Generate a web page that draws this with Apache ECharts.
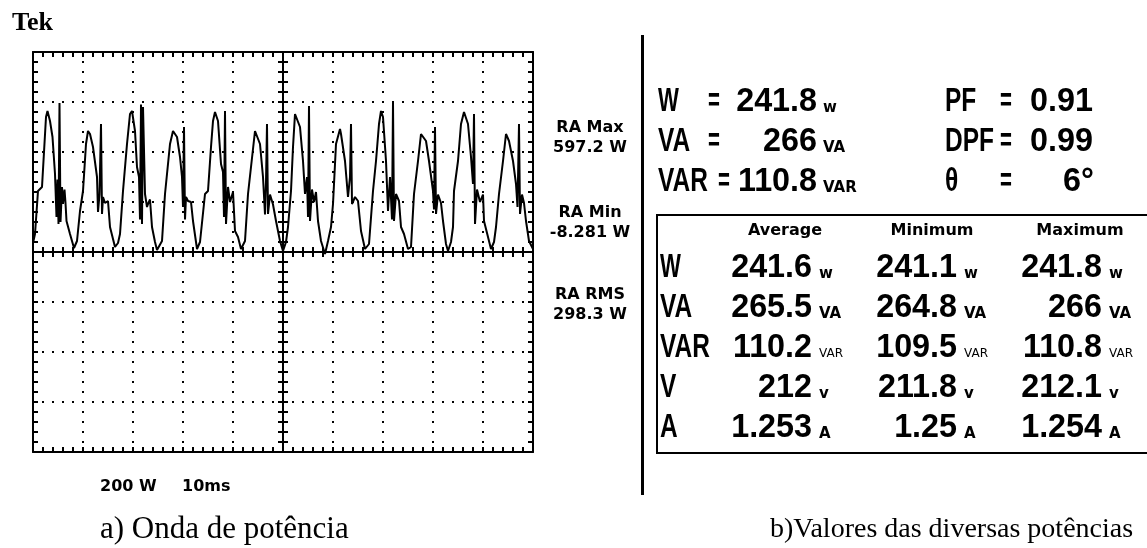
<!DOCTYPE html>
<html lang="pt">
    <head>
        <title>Onda de potência</title>
        <meta charset="utf-8">
        <script src='https://cdn.jsdelivr.net/npm/echarts@6/dist/echarts.min.js'></script>
    </head>

    <style>
        html, body {
            margin: 0;
            background: #fff;
        }

        #main {
            width: 1147px;
            height: 548px;
        }
    </style>

    <body>
        <div id='main'></div>

        <script>
            // scope trace, one line per hump (ms / W)
            const timeMs = [
                0.0, 0.4, 1.0, 1.8, 2.2, 2.6, 2.9, 3.4, 3.9, 4.4, 4.7, 4.9, 5.1, 5.3, 5.5, 5.8, 6.0, 6.3, 6.5, 6.7, 7.4, 7.8, 8.2,
                8.8, 9.4, 10.0, 10.6, 11.0, 11.4, 12.0, 12.8, 13.0, 13.3, 13.6, 13.8, 14.0, 14.4, 15.0, 15.4, 16.4,
                17.0, 17.4, 18.0, 18.8, 19.4, 19.8, 20.4, 20.8, 21.2, 21.4, 21.6, 21.8, 22.0, 22.4, 22.8, 23.0, 23.4, 23.8, 24.4, 24.8,
                25.8, 26.4, 27.4, 28.0, 28.8, 29.4, 29.8, 30.0, 30.2, 30.4, 30.6, 31.0, 31.6, 32.0, 32.8,
                33.4, 34.4, 35.0, 35.6, 36.0, 36.4, 37.0, 37.6, 38.0, 38.2, 38.4, 38.6, 39.0, 39.4, 40.0, 40.4, 41.0, 41.6,
                42.4, 43.0, 43.6, 44.4, 44.6, 45.4, 46.0, 46.4, 46.6, 46.8, 47.0, 47.4, 48.0, 48.6, 49.4, 50.0,
                50.6, 51.0, 51.6, 52.0, 52.4, 52.6, 53.4, 54.0, 54.4, 54.8, 55.0, 55.2, 55.4, 55.8, 56.2, 56.6, 57.0, 57.6, 58.4,
                59.0, 59.6, 60.0, 60.6, 61.4, 61.6, 62.4, 63.0, 63.4, 63.6, 63.8, 64.4, 65.0, 65.6, 66.4,
                67.2, 68.0, 68.6, 69.2, 69.6, 70.0, 70.6, 71.0, 71.4, 71.8, 72.0, 72.2, 72.6, 73.2, 73.6, 74.2, 75.0,
                75.6, 76.2, 77.0, 77.6, 78.0, 78.6, 79.2, 80.0, 80.2, 80.4, 80.6, 81.0, 81.6, 82.0, 82.6, 83.0,
                83.6, 84.0, 84.2, 85.0, 85.6, 86.2, 87.0, 87.6, 88.0, 88.2, 88.4, 88.8, 89.4, 90.0, 90.2, 91.0, 91.6,
                92.2, 92.6, 93.2, 94.0, 94.6, 95.2, 96.0, 96.6, 96.9, 97.2, 97.4, 97.8, 98.2, 98.6, 99.2, 100.0
            ];
            const powerW = [
                36, 72, 244, 260, 400, 540, 564, 524, 460, 312, 140, 290, 112, 596, 120, 260, 192, 250, 196, 124, 72, 44, 16,
                44, 164, 244, 432, 484, 472, 420, 300, 160, 230, 512, 152, 220, 196, 204, 100, 20,
                36, 72, 244, 432, 552, 564, 484, 340, 300, 130, 590, 112, 580, 232, 180, 192, 210, 100, 40, 8,
                44, 232, 432, 484, 460, 380, 300, 180, 500, 130, 220, 204, 200, 124, 12,
                40, 232, 244, 420, 524, 560, 524, 352, 320, 140, 564, 112, 260, 200, 240, 84, 60, 12,
                44, 232, 340, 484, 492, 432, 300, 150, 280, 512, 152, 230, 190, 124, 44, 4,
                40, 100, 244, 420, 552, 560, 500, 364, 232, 300, 140, 584, 124, 250, 200, 240, 124, 44, -8,
                44, 100, 192, 432, 492, 472, 364, 220, 300, 512, 192, 220, 204, 84, 12,
                32, 244, 364, 512, 564, 540, 364, 164, 300, 130, 597, 124, 232, 204, 100, 72, 12,
                20, 232, 364, 472, 480, 444, 364, 244, 170, 500, 152, 230, 196, 124, 32, 4,
                40, 100, 244, 364, 512, 560, 512, 380, 272, 552, 112, 250, 200, 230, 124, 60, 12,
                40, 100, 232, 364, 472, 444, 364, 272, 180, 512, 152, 230, 196, 124, 44, 12
            ];

            // readouts beside the scope
            const readoutNames = ['RA Max', 'RA Min', 'RA RMS'];
            const readoutValues = ['597.2 W', '-8.281 W', '298.3 W'];
            const scaleText = ['200 W', '10ms'];

            // instantaneous values
            const summaryNames = ['W', 'VA', 'VAR'];
            const summaryValues = ['241.8', '266', '110.8'];
            const summaryUnits = ['w', 'VA', 'VAR'];
            const factorNames = ['PF', 'DPF', 'θ'];
            const factorValues = ['0.91', '0.99', '6°'];

            // table
            const columnTitles = ['Average', 'Minimum', 'Maximum'];
            const rowNames = ['W', 'VA', 'VAR', 'V', 'A'];
            const rowUnits = ['w', 'VA', 'VAR', 'v', 'A'];
            const avgValues = ['241.6', '265.5', '110.2', '212', '1.253'];
            const minValues = ['241.1', '264.8', '109.5', '211.8', '1.25'];
            const maxValues = ['241.8', '266', '110.8', '212.1', '1.254'];

            const captions = ['a) Onda de potência', 'b)Valores das diversas potências'];

            const black = '#000';
            const bigFont = 'bold 34px "Liberation Sans"';
            const unitFont = 'bold 15px "DejaVu Sans"';
            const tekFont = 'bold 16px "DejaVu Sans"';

            const txt = (text, x, y, font, align, scaleX) => ({
                type: 'text',
                x: x,
                y: y,
                scaleX: scaleX || 1,
                silent: true,
                style: {
                    text: text,
                    font: font,
                    fill: black,
                    align: align || 'left',
                    textAlign: align || 'left',
                    verticalAlign: 'middle',
                    textVerticalAlign: 'middle'
                }
            });

            // the meter font is narrow: squeeze names harder than numbers
            const nameScale = (text) => text === 'W' ? 0.65 : 0.72;
            const eqScale = 0.6;
            const numScale = 0.95;

            const dots = { color: black, width: 2, type: [2, 8], dashOffset: 1 };

            const scopeX = (position, onZero, inside, split) => ({
                type: 'value', min: 0, max: 100, interval: 10, position: position,
                axisLine: { show: true, onZero: onZero, lineStyle: { color: black, width: 2 } },
                axisTick: { show: true, inside: inside, length: 5, lineStyle: { color: black, width: 2 } },
                minorTick: { show: true, splitNumber: 5, length: 5, lineStyle: { color: black, width: 2 } },
                axisLabel: { show: false },
                splitLine: { show: split, lineStyle: dots }
            });

            const scopeY = (position, offset, inside, split) => ({
                type: 'value', min: -800, max: 800, interval: 200, position: position, offset: offset,
                axisLine: { show: true, onZero: false, lineStyle: { color: black, width: 2 } },
                axisTick: { show: true, inside: inside, length: 5, lineStyle: { color: black, width: 2 } },
                minorTick: { show: true, splitNumber: 5, length: 5, lineStyle: { color: black, width: 2 } },
                axisLabel: { show: false },
                splitLine: { show: split, lineStyle: dots }
            });

            const elements = [];

            elements.push(txt('Tek', 12, 23, 'bold 26px "Liberation Serif"'));

            readoutNames.forEach((name, i) => {
                const y = [128, 213, 295][i];
                elements.push(txt(name, 590, y, tekFont, 'center'));
                elements.push(txt(readoutValues[i], 590, y + 20, tekFont, 'center'));
            });

            elements.push(txt(scaleText[0], 100, 487, 'bold 16px "DejaVu Sans"'));
            elements.push(txt(scaleText[1], 182, 487, 'bold 16px "DejaVu Sans"'));

            elements.push(txt(captions[0], 100, 530, '31px "Liberation Serif"'));
            elements.push(txt(captions[1], 770, 530, '28px "Liberation Serif"'));

            // divider and table frame
            elements.push({ type: 'rect', silent: true, shape: { x: 641, y: 35, width: 3, height: 460 }, style: { fill: black } });
            elements.push({ type: 'rect', silent: true, shape: { x: 657, y: 215, width: 500, height: 238 }, style: { fill: 'transparent', stroke: black, lineWidth: 2 } });

            const eqLeftX = [708, 708, 718];
            summaryNames.forEach((name, i) => {
                const y = 102 + i * 40;
                elements.push(txt(name, 658, y, bigFont, 'left', nameScale(name)));
                elements.push(txt('=', eqLeftX[i], y, bigFont, 'left', eqScale));
                elements.push(txt(summaryValues[i], 817, y, bigFont, 'right', numScale));
                elements.push(txt(summaryUnits[i], 823, y + 6, unitFont));
                elements.push(txt(factorNames[i], 945, y, bigFont, 'left', nameScale(factorNames[i])));
                elements.push(txt('=', 1000, y, bigFont, 'left', eqScale));
                elements.push(txt(factorValues[i], i === 2 ? 1063 : 1030, y, bigFont, 'left', numScale));
            });

            const colRight = [812, 957, 1102];
            const colTitleX = [785, 932, 1080];
            columnTitles.forEach((title, j) => {
                elements.push(txt(title, colTitleX[j], 231, tekFont, 'center'));
            });
            rowNames.forEach((name, i) => {
                const y = 268 + i * 40;
                elements.push(txt(name, 660, y, bigFont, 'left', nameScale(name)));
                [avgValues, minValues, maxValues].forEach((col, j) => {
                    elements.push(txt(col[i], colRight[j], y, bigFont, 'right', numScale));
                    const thin = rowUnits[i] === 'VAR';
                    elements.push(txt(rowUnits[i], colRight[j] + 7, y + 6,
                        thin ? '12px "DejaVu Sans"' : unitFont));
                });
            });

            const chart = echarts.init(document.getElementById('main'));

            const option = {
                animation: false,
                backgroundColor: '#fff',
                grid: { left: 33, top: 52, width: 500, height: 400, show: false, containLabel: false },
                xAxis: [
                    scopeX('bottom', false, true, true),
                    scopeX('top', false, true, false),
                    scopeX('bottom', true, true, false),
                    scopeX('bottom', true, false, false)
                ],
                yAxis: [
                    scopeY('left', 0, true, true),
                    scopeY('right', 0, true, false),
                    scopeY('left', -250, true, false),
                    scopeY('left', -250, false, false)
                ],
                series: [ {
                    type: 'line',
                    xAxisIndex: 0,
                    yAxisIndex: 0,
                    data: timeMs.map((t, i) => [t, powerW[i]]),
                    showSymbol: false,
                    symbol: 'none',
                    silent: true,
                    z: 5,
                    lineStyle: { color: black, width: 2 }
                } ],
                graphic: { elements: elements }
            };

            chart.setOption(option);

            window.onresize = function () {
                chart.resize();
            }
        </script>
    </body>
</html>
